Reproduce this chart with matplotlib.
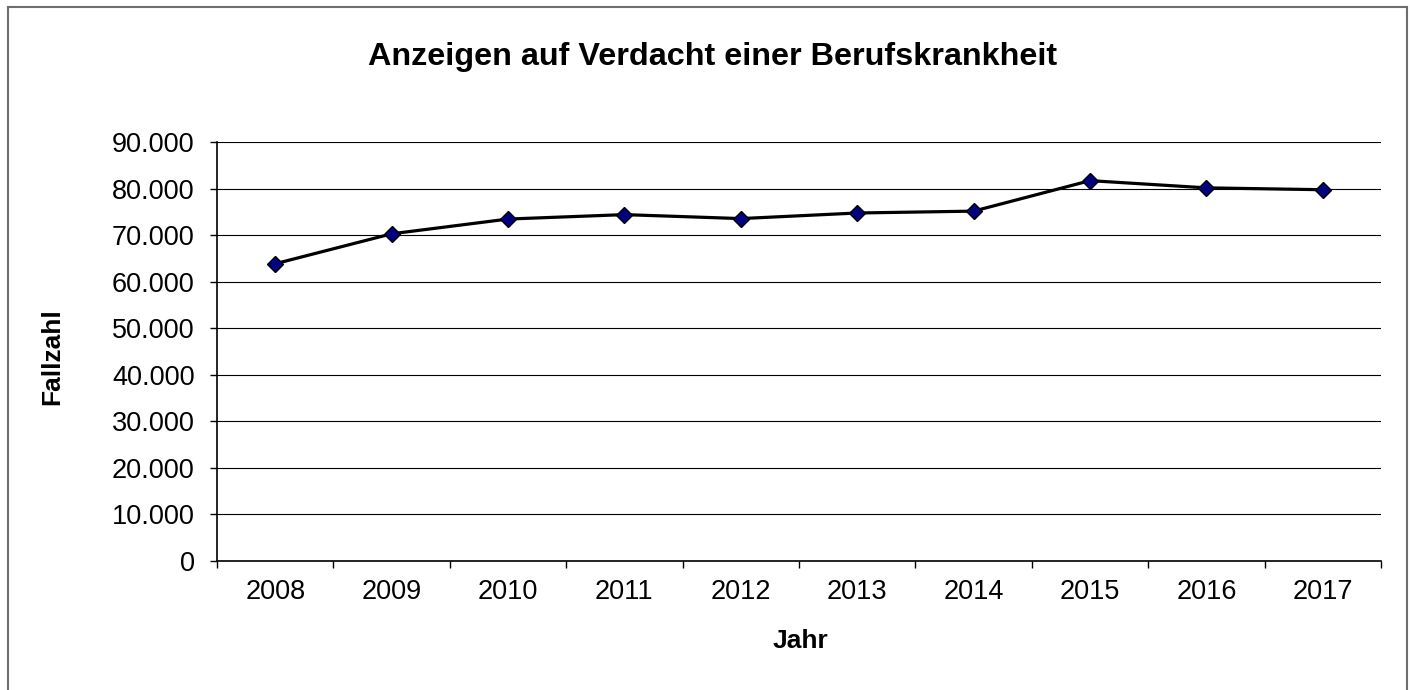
import matplotlib.pyplot as plt
from matplotlib.lines import Line2D
from matplotlib.ticker import FuncFormatter, FixedLocator

# Data
years = ["2008", "2009", "2010", "2011", "2012", "2013", "2014", "2015", "2016", "2017"]
cases = [63850, 70280, 73450, 74400, 73550, 74750, 75150, 81700, 80150, 79750]

title = "Anzeigen auf Verdacht einer Berufskrankheit"
x_label = "Jahr"
y_label = "Fallzahl"

plt.rcParams['font.family'] = ['Liberation Sans', 'DejaVu Sans']

W, H = 1410, 690
fig = plt.figure(figsize=(W / 100, H / 100), dpi=100)
ax = fig.add_axes([217 / W, 1 - 561 / H, (1381 - 217) / W, (561 - 142) / H])

x = list(range(len(years)))
ax.plot(x, cases, '-', color='black', linewidth=2.3, zorder=3)
ax.plot(x, cases, 'D', markersize=8, markerfacecolor='#000080',
        markeredgecolor='black', markeredgewidth=1.0, zorder=4)

ax.set_xlim(-0.5, len(years) - 0.5)
ax.set_ylim(0, 90000)

# y axis: gridlines every 10.000, German thousands separator
ax.yaxis.set_major_locator(FixedLocator(range(0, 90001, 10000)))
ax.yaxis.set_major_formatter(FuncFormatter(lambda v, p: f"{int(v):,}".replace(",", ".")))
ax.grid(axis='y', color='black', linewidth=0.8)
ax.set_axisbelow(True)

# x axis: ticks between categories, labels centred
ax.xaxis.set_major_locator(FixedLocator([i - 0.5 for i in range(len(years) + 1)]))
ax.xaxis.set_major_formatter(FuncFormatter(lambda v, p: ""))
ax.xaxis.set_minor_locator(FixedLocator(x))
ax.set_xticklabels(years, minor=True)
ax.tick_params(axis='x', which='minor', length=0, pad=13, labelsize=19.5)
ax.tick_params(axis='x', which='major', length=5, width=1, direction='out')
ax.tick_params(axis='y', length=5, width=1, direction='out', pad=11, labelsize=19.5)

for side in ['top', 'right']:
    ax.spines[side].set_visible(False)
for side in ['left', 'bottom']:
    ax.spines[side].set_color('black')
    ax.spines[side].set_linewidth(1.2)

fig.text(713 / W, 1 - 57 / H, title, ha='center', va='center',
         fontsize=23.3, fontweight='bold')
fig.text(800 / W, 1 - 641 / H, x_label, ha='center', va='center',
         fontsize=19, fontweight='bold')
fig.text(52 / W, 1 - 357 / H, y_label, ha='center', va='center',
         fontsize=19, fontweight='bold', rotation=90)

# chart frame (bottom edge runs off the picture)
for xs, ys in [([8, 8], [7, 700]), ([8, 1407], [7, 7]), ([1407, 1407], [7, 700])]:
    fig.add_artist(Line2D([v / W for v in xs], [1 - v / H for v in ys],
                          color='#6e6e6e', linewidth=1.5))

fig.savefig("out.png", dpi=100)
